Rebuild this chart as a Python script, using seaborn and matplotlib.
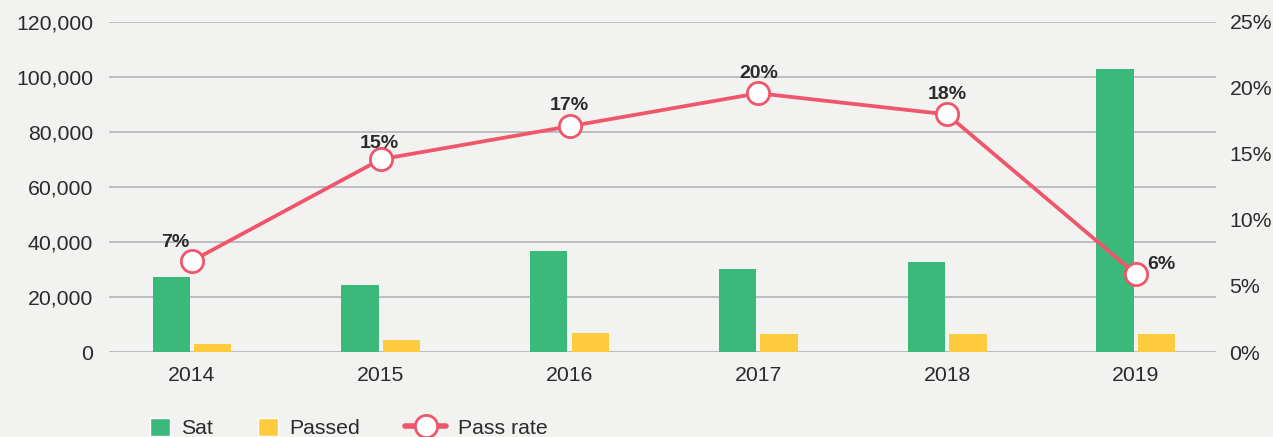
import numpy as np
import pandas as pd
import matplotlib
matplotlib.use("Agg")
import matplotlib.pyplot as plt
import matplotlib.ticker as mticker
from matplotlib.patches import Patch
from matplotlib.lines import Line2D
import seaborn as sns

# ---------------- data ----------------
years = ["2014", "2015", "2016", "2017", "2018", "2019"]
sat = [27300, 24400, 36700, 30200, 32700, 102900]
passed = [2900, 4400, 6900, 6500, 6500, 6500]
pass_rate = [6.9, 14.6, 17.1, 19.6, 18.0, 5.9]
rate_labels = ["7%", "15%", "17%", "20%", "18%", "6%"]

GREEN = "#3bb97a"
YELLOW = "#fecb3f"
RED = "#f0566a"
BG = "#f2f2f0"
GRID = "#b3b4b8"
TXT = "#2b2b2b"
FS = 15.3

sns.set_theme(style="white")
plt.rcParams["font.family"] = ["Liberation Sans", "DejaVu Sans"]

df = pd.DataFrame({
    "year": years * 2,
    "series": ["Sat"] * len(years) + ["Passed"] * len(years),
    "value": sat + passed,
})

fig = plt.figure(figsize=(12.73, 4.37), dpi=100, facecolor=BG)
ax = fig.add_axes([0.0856, 0.1945, 0.8694, 0.7552])
ax.set_facecolor(BG)

sns.barplot(data=df, x="year", y="value", hue="series", order=years,
            hue_order=["Sat", "Passed"], palette=[GREEN, YELLOW],
            width=0.44, gap=0.1, saturation=1, linewidth=0,
            legend=False, ax=ax)

ax.set_ylim(0, 120000)
ax.set_yticks(np.arange(0, 120001, 20000))
ax.yaxis.set_major_formatter(mticker.FuncFormatter(lambda v, p: f"{int(v):,}"))
ax.grid(axis="y", color=GRID, linewidth=1.2)
ax.set_axisbelow(True)
ax.set_xlabel("")
ax.set_ylabel("")
sns.despine(ax=ax, left=True, bottom=True, right=True, top=True)
ax.tick_params(axis="both", length=0, labelsize=FS, colors=TXT)
ax.tick_params(axis="y", pad=11.5)
ax.tick_params(axis="x", pad=10)

# pass rate on the right axis
ax2 = ax.twinx()
xpos = np.arange(len(years))
sns.lineplot(x=xpos, y=pass_rate, ax=ax2, color=RED, linewidth=2.7,
             marker="o", markersize=16, markerfacecolor="white",
             markeredgecolor=RED, markeredgewidth=2)
ax2.set_ylim(0, 25)
ax2.set_yticks(np.arange(0, 26, 5))
ax2.yaxis.set_major_formatter(mticker.FuncFormatter(lambda v, p: f"{int(v)}%"))
ax2.tick_params(axis="y", length=0, labelsize=FS, colors=TXT, pad=10)
for s in ax2.spines.values():
    s.set_visible(False)
ax2.set_ylabel("")

offsets = [(-12, 7), (-1, 5), (0, 9), (0, 8), (0, 8), (18.5, 1)]
for i, (v, lab) in enumerate(zip(pass_rate, rate_labels)):
    ax2.annotate(lab, (xpos[i], v), xytext=offsets[i], textcoords="offset points",
                 ha="center", va="bottom", fontsize=14, fontweight="bold",
                 color=TXT)

ax.set_xlim(-0.44, 5.423)

# legend at the bottom: one entry per legend so each keeps its own handle width
legend_items = [
    (Patch(facecolor=GREEN, label="Sat"), 150, 0.92),
    (Patch(facecolor=YELLOW, label="Passed"), 258, 0.92),
    (Line2D([], [], color=RED, linewidth=4, marker="o", markersize=16,
            markerfacecolor="white", markeredgecolor=RED, markeredgewidth=2,
            label="Pass rate"), 405, 1.95),
]
for handle, xpix, hl in legend_items:
    leg = fig.legend(handles=[handle], loc="center left",
                     bbox_to_anchor=(xpix / 1273, 0.02), frameon=False,
                     fontsize=FS, handlelength=hl, handleheight=0.95,
                     handletextpad=0.55, borderpad=0, borderaxespad=0)
    for t in leg.get_texts():
        t.set_color(TXT)

fig.savefig("out.png", dpi=100, facecolor=BG)
